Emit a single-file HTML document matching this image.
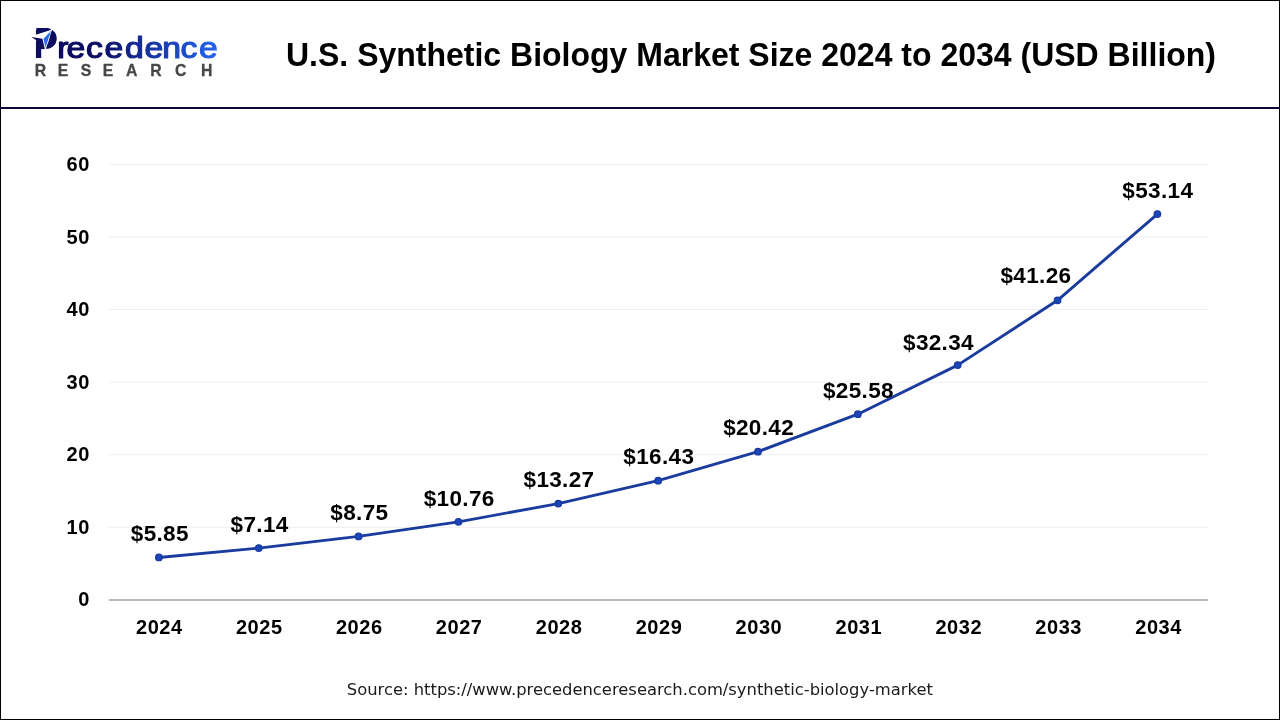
<!DOCTYPE html>
<html lang="en">
<head>
<meta charset="utf-8">
<title>U.S. Synthetic Biology Market Size 2024 to 2034 (USD Billion)</title>
<style>
html,body{margin:0;padding:0;}
body{width:1280px;height:720px;overflow:hidden;background:#fff;position:relative;font-family:"Liberation Sans",sans-serif;}
.page{position:absolute;left:0;top:0;width:1280px;height:720px;will-change:transform;}
.frame{position:absolute;left:0;top:0;width:1280px;height:720px;box-sizing:border-box;border:1px solid #000;border-right-width:1.4px;border-bottom-width:1.6px;}
.rule{position:absolute;left:0;top:106.8px;width:1280px;height:2.2px;background:#0b0b33;}
.title{position:absolute;left:286px;top:34.7px;margin:0;font-weight:700;font-size:32px;line-height:40px;color:#000;white-space:nowrap;letter-spacing:0;transform:scaleY(1.025);transform-origin:0 19.6px;}
.source{position:absolute;left:346.8px;top:678.8px;margin:0;font-family:"DejaVu Sans","Liberation Sans",sans-serif;font-size:16.38px;line-height:22px;color:#1a1a1a;white-space:nowrap;}
svg{position:absolute;left:0;top:0;}
.lw{font-family:"Liberation Sans",sans-serif;fill:url(#lg);stroke:url(#lg);stroke-linejoin:round;}
.lP{font-weight:700;font-size:46.8px;stroke-width:0;}
.lr{font-weight:400;font-size:33.7px;stroke-width:1.35px;}
.ls{font-family:"Liberation Sans",sans-serif;font-weight:700;font-size:15.8px;fill:#474747;stroke:#474747;stroke-width:0.3px;stroke-linejoin:round;}
.ax{font-family:"Liberation Sans",sans-serif;font-weight:700;font-size:20px;fill:#000;letter-spacing:0.55px;}
.dl{font-family:"Liberation Sans",sans-serif;font-weight:700;font-size:22.5px;fill:#000;letter-spacing:0.35px;}
</style>
</head>
<body>
<div class="page">
<div class="frame"></div>
<div class="rule"></div>
<h1 class="title">U.S. Synthetic Biology Market Size 2024 to 2034 (USD Billion)</h1>
<svg id="logo" width="260" height="100" viewBox="0 0 260 100" role="img" aria-label="Precedence Research">
<defs>
<linearGradient id="lg" gradientUnits="userSpaceOnUse" x1="96" y1="0" x2="217" y2="0">
<stop offset="0" stop-color="#0c0c60"/><stop offset="1" stop-color="#2364ee"/>
</linearGradient>
</defs>
<text class="lw" transform="translate(0,57.5) scale(1,0.885)" y="0"><tspan class="lP" x="33.4" textLength="24.4" lengthAdjust="spacingAndGlyphs">P</tspan><tspan class="lr" x="57.2 66.6 86.1 104.5 125.1 144.4 162.2 180.5 199.1">recedence</tspan></text>
<polygon points="52.2,29.6 36.3,34.5 33,35.7 31.3,37 36.3,40.6 41,49.6 45.9,49.6" fill="#fff"/>
<polygon points="36.3,28.1 47.8,28.1 50.8,29 51.4,29.5 36.3,34.3" fill="#0c0c60"/>
<polygon points="31.3,37 42.4,38.8 44.8,49 41,49.2 41,52 36.3,52 36.3,40.3" fill="#0c0c60"/>
<path d="M52.1,30.1 C56.2,32.3 57.2,37.5 55.8,41.8 C54.3,46.2 50.6,48.9 46.1,49.1 Z" fill="#0c0c60"/>
<polygon points="51.1,30.7 43.5,38.7 45.4,47.8" fill="#2a6be6"/>
<text class="ls" transform="translate(0,76.25) scale(1,1.07)" x="34.7 57.7 80.8 102.8 125.9 150.2 175 201" y="0">RESEARCH</text>
</svg>
<svg id="chart" width="1280" height="720" viewBox="0 0 1280 720">
<line x1="108.8" x2="1208" y1="527.32" y2="527.32" stroke="#eeeeee" stroke-width="1"/>
<line x1="108.8" x2="1208" y1="454.74" y2="454.74" stroke="#eeeeee" stroke-width="1"/>
<line x1="108.8" x2="1208" y1="382.16" y2="382.16" stroke="#eeeeee" stroke-width="1"/>
<line x1="108.8" x2="1208" y1="309.58" y2="309.58" stroke="#eeeeee" stroke-width="1"/>
<line x1="108.8" x2="1208" y1="237.00" y2="237.00" stroke="#eeeeee" stroke-width="1"/>
<line x1="108.8" x2="1208" y1="164.42" y2="164.42" stroke="#eeeeee" stroke-width="1"/>
<line x1="108.8" x2="1208" y1="599.9" y2="599.9" stroke="#b9b9b9" stroke-width="2"/>
<text class="ax" x="89.9" y="606.20" text-anchor="end">0</text>
<text class="ax" x="89.9" y="533.67" text-anchor="end">10</text>
<text class="ax" x="89.9" y="461.14" text-anchor="end">20</text>
<text class="ax" x="89.9" y="388.61" text-anchor="end">30</text>
<text class="ax" x="89.9" y="316.08" text-anchor="end">40</text>
<text class="ax" x="89.9" y="243.55" text-anchor="end">50</text>
<text class="ax" x="89.9" y="171.02" text-anchor="end">60</text>
<text class="ax" x="159.38" y="634.3" text-anchor="middle">2024</text>
<text class="ax" x="259.30" y="634.3" text-anchor="middle">2025</text>
<text class="ax" x="359.23" y="634.3" text-anchor="middle">2026</text>
<text class="ax" x="459.15" y="634.3" text-anchor="middle">2027</text>
<text class="ax" x="559.08" y="634.3" text-anchor="middle">2028</text>
<text class="ax" x="659.00" y="634.3" text-anchor="middle">2029</text>
<text class="ax" x="758.93" y="634.3" text-anchor="middle">2030</text>
<text class="ax" x="858.86" y="634.3" text-anchor="middle">2031</text>
<text class="ax" x="958.78" y="634.3" text-anchor="middle">2032</text>
<text class="ax" x="1058.70" y="634.3" text-anchor="middle">2033</text>
<text class="ax" x="1158.63" y="634.3" text-anchor="middle">2034</text>
<polyline points="158.90,557.47 258.75,548.10 358.60,536.41 458.45,521.81 558.30,503.58 658.15,480.64 758.00,451.66 857.85,414.19 957.70,365.10 1057.55,300.32 1157.40,214.05" fill="none" stroke="#1b3c9f" stroke-width="2.9" stroke-linejoin="round" stroke-linecap="round"/>
<circle cx="158.90" cy="557.47" r="3.25" fill="#1b45ba" stroke="#1a3b9f" stroke-width="1.3"/>
<circle cx="258.75" cy="548.10" r="3.25" fill="#1b45ba" stroke="#1a3b9f" stroke-width="1.3"/>
<circle cx="358.60" cy="536.41" r="3.25" fill="#1b45ba" stroke="#1a3b9f" stroke-width="1.3"/>
<circle cx="458.45" cy="521.81" r="3.25" fill="#1b45ba" stroke="#1a3b9f" stroke-width="1.3"/>
<circle cx="558.30" cy="503.58" r="3.25" fill="#1b45ba" stroke="#1a3b9f" stroke-width="1.3"/>
<circle cx="658.15" cy="480.64" r="3.25" fill="#1b45ba" stroke="#1a3b9f" stroke-width="1.3"/>
<circle cx="758.00" cy="451.66" r="3.25" fill="#1b45ba" stroke="#1a3b9f" stroke-width="1.3"/>
<circle cx="857.85" cy="414.19" r="3.25" fill="#1b45ba" stroke="#1a3b9f" stroke-width="1.3"/>
<circle cx="957.70" cy="365.10" r="3.25" fill="#1b45ba" stroke="#1a3b9f" stroke-width="1.3"/>
<circle cx="1057.55" cy="300.32" r="3.25" fill="#1b45ba" stroke="#1a3b9f" stroke-width="1.3"/>
<circle cx="1157.40" cy="214.05" r="3.25" fill="#1b45ba" stroke="#1a3b9f" stroke-width="1.3"/>
<text class="dl" x="159.80" y="541.27" text-anchor="middle">$5.85</text>
<text class="dl" x="259.60" y="531.90" text-anchor="middle">$7.14</text>
<text class="dl" x="359.40" y="520.21" text-anchor="middle">$8.75</text>
<text class="dl" x="459.20" y="505.61" text-anchor="middle">$10.76</text>
<text class="dl" x="559.00" y="487.38" text-anchor="middle">$13.27</text>
<text class="dl" x="658.80" y="464.44" text-anchor="middle">$16.43</text>
<text class="dl" x="758.60" y="435.46" text-anchor="middle">$20.42</text>
<text class="dl" x="858.40" y="397.99" text-anchor="middle">$25.58</text>
<text class="dl" x="938.50" y="350.40" text-anchor="middle">$32.34</text>
<text class="dl" x="1035.90" y="283.00" text-anchor="middle">$41.26</text>
<text class="dl" x="1157.80" y="197.85" text-anchor="middle">$53.14</text>
</svg>
<p class="source">Source: https://www.precedenceresearch.com/synthetic-biology-market</p>
</div>
</body>
</html>
